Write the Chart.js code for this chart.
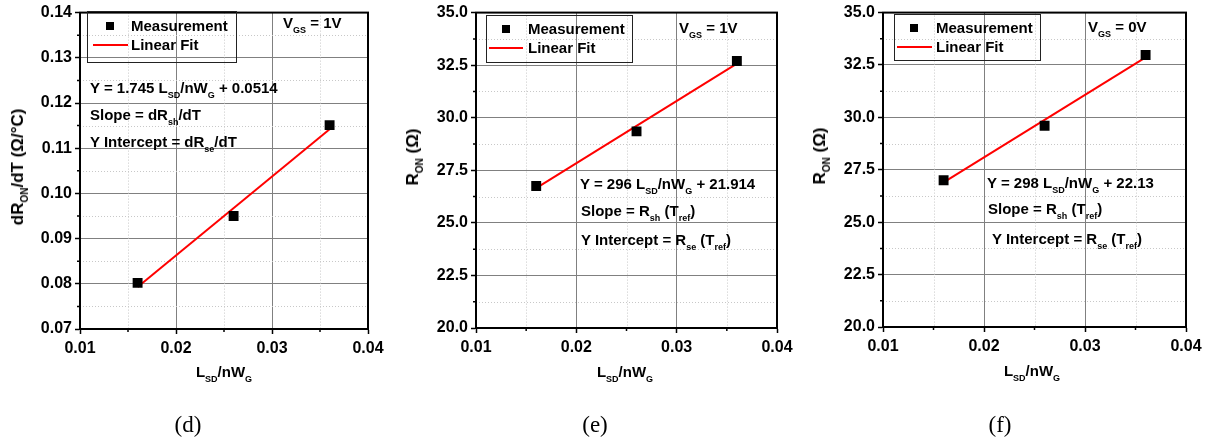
<!DOCTYPE html>
<html lang="en">
<head>
<meta charset="UTF-8">
<title>R_ON vs L_SD/nW_G</title>
<script src="https://cdn.jsdelivr.net/npm/chart.js"></script>
<style>
    body { margin: 0; background: #fff; }
    #wrap { position: relative; width: 1212px; height: 445px; overflow: hidden;
            font-family: "Liberation Sans", Arial, sans-serif; font-weight: bold; color: #000; }
    canvas { position: absolute; top: 0; }
    .t { position: absolute; white-space: nowrap; font-size: 15px; line-height: 18px; transform: translateY(-50%); }
    .t sub { font-size: 9px; vertical-align: -5px; line-height: 0; }
    .ytitle { position: absolute; white-space: nowrap; font-size: 17px; line-height: 20px;
              transform: translate(-50%, -50%) rotate(-90deg); }
    .ytitle sub { font-size: 10px; vertical-align: -5px; line-height: 0; }
    .xtitle { position: absolute; white-space: nowrap; font-size: 15px; line-height: 18px; transform: translate(-50%, -50%); }
    .xtitle sub { font-size: 9px; vertical-align: -5px; line-height: 0; }
    .legend { position: absolute; border: 1.5px solid #222; box-sizing: border-box; }
    .sq { position: absolute; width: 8px; height: 8px; background: #000; transform: translate(-50%, -50%); }
    .ln { position: absolute; height: 2px; background: #f00; transform: translateY(-50%); }
    .cap { position: absolute; font-family: "Liberation Serif", "Times New Roman", serif; font-weight: normal;
           font-size: 23px; color: #000; transform: translate(-50%, -50%); }
</style>
</head>
<body>
<div id="wrap">
    <canvas id="chartD"></canvas>
    <canvas id="chartE"></canvas>
    <canvas id="chartF"></canvas>

    <!-- (d) -->
    <div class="legend" style="left:87px;top:11px;width:150px;height:52px;"></div>
    <div class="sq" style="left:110px;top:26px;"></div>
    <div class="t" style="left:131px;top:26px;">Measurement</div>
    <div class="ln" style="left:93px;top:45px;width:35px;"></div>
    <div class="t" style="left:131px;top:45px;">Linear Fit</div>
    <div class="t" style="left:283px;top:23px;">V<sub>GS</sub> = 1V</div>
    <div class="t" style="left:90px;top:88px;">Y = 1.745 L<sub>SD</sub>/nW<sub>G</sub> + 0.0514</div>
    <div class="t" style="left:90px;top:115px;">Slope = dR<sub>sh</sub>/dT</div>
    <div class="t" style="left:90px;top:142px;">Y Intercept = dR<sub>se</sub>/dT</div>
    <div class="ytitle" style="left:18px;top:167px;">dR<sub>ON</sub>/dT (Ω/°C)</div>
    <div class="xtitle" style="left:224px;top:372px;">L<sub>SD</sub>/nW<sub>G</sub></div>
    <div class="cap" style="left:188px;top:425px;">(d)</div>

    <!-- (e) -->
    <div class="legend" style="left:486px;top:15px;width:147px;height:48px;"></div>
    <div class="sq" style="left:506px;top:29px;"></div>
    <div class="t" style="left:528px;top:29px;">Measurement</div>
    <div class="ln" style="left:489px;top:48px;width:34px;"></div>
    <div class="t" style="left:528px;top:48px;">Linear Fit</div>
    <div class="t" style="left:679px;top:28px;">V<sub>GS</sub> = 1V</div>
    <div class="t" style="left:580px;top:184px;">Y = 296 L<sub>SD</sub>/nW<sub>G</sub> + 21.914</div>
    <div class="t" style="left:581px;top:211px;">Slope = R<sub>sh</sub> (T<sub>ref</sub>)</div>
    <div class="t" style="left:581px;top:240px;">Y Intercept = R<sub>se</sub> (T<sub>ref</sub>)</div>
    <div class="ytitle" style="left:413px;top:157px;">R<sub>ON</sub> (Ω)</div>
    <div class="xtitle" style="left:625px;top:372px;">L<sub>SD</sub>/nW<sub>G</sub></div>
    <div class="cap" style="left:595px;top:425px;">(e)</div>

    <!-- (f) -->
    <div class="legend" style="left:894px;top:14px;width:147px;height:47px;"></div>
    <div class="sq" style="left:914px;top:28px;"></div>
    <div class="t" style="left:936px;top:28px;">Measurement</div>
    <div class="ln" style="left:897px;top:47px;width:35px;"></div>
    <div class="t" style="left:936px;top:47px;">Linear Fit</div>
    <div class="t" style="left:1088px;top:27px;">V<sub>GS</sub> = 0V</div>
    <div class="t" style="left:987px;top:183px;">Y = 298 L<sub>SD</sub>/nW<sub>G</sub> + 22.13</div>
    <div class="t" style="left:988px;top:209px;">Slope = R<sub>sh</sub> (T<sub>ref</sub>)</div>
    <div class="t" style="left:992px;top:239px;">Y Intercept = R<sub>se</sub> (T<sub>ref</sub>)</div>
    <div class="ytitle" style="left:820px;top:156px;">R<sub>ON</sub> (Ω)</div>
    <div class="xtitle" style="left:1032px;top:371px;">L<sub>SD</sub>/nW<sub>G</sub></div>
    <div class="cap" style="left:1000px;top:425px;">(f)</div>
</div>

<script>
    // data
    const xTicks = [0.01, 0.02, 0.03, 0.04];
    const xMinor = [0.015, 0.025, 0.035];
    const lsdNwg = [0.016, 0.026, 0.036];

    const dRonDt = [0.0802, 0.0950, 0.1151];   // (d)
    const ronVgs1 = [26.75, 29.35, 32.70];     // (e)
    const ronVgs0 = [27.00, 29.60, 32.98];     // (f)

    const fitX = [0.016, 0.036];
    const fitDRon = [0.0793, 0.1142];
    const fitRon1 = [26.65, 32.57];
    const fitRon0 = [26.90, 32.86];

    const yTicksD = [0.07, 0.08, 0.09, 0.10, 0.11, 0.12, 0.13, 0.14];
    const yMinorD = [0.075, 0.085, 0.095, 0.105, 0.115, 0.125, 0.135];
    const yTicksR = [20.0, 22.5, 25.0, 27.5, 30.0, 32.5, 35.0];
    const yMinorR = [21.25, 23.75, 26.25, 28.75, 31.25, 33.75];

    const tickFont = { family: '"Liberation Sans", Arial, sans-serif', size: 16, weight: 'bold' };

    // minor dotted grid, short minor ticks and the closed frame
    const framePlugin = {
        id: 'frame',
        beforeDatasetsDraw(chart, args, opts) {
            const { ctx, chartArea: a, scales: { x, y } } = chart;
            ctx.save();
            ctx.strokeStyle = '#c8c8c8';
            ctx.lineWidth = 1;
            ctx.setLineDash([1, 2]);
            ctx.beginPath();
            opts.xMinor.forEach(v => {
                const px = Math.round(x.getPixelForValue(v)) + 0.5;
                ctx.moveTo(px, a.top); ctx.lineTo(px, a.bottom);
            });
            opts.yMinor.forEach(v => {
                const py = Math.round(y.getPixelForValue(v)) + 0.5;
                ctx.moveTo(a.left, py); ctx.lineTo(a.right, py);
            });
            ctx.stroke();
            ctx.restore();
        },
        afterDraw(chart, args, opts) {
            const { ctx, chartArea: a, scales: { x, y } } = chart;
            ctx.save();
            ctx.strokeStyle = '#000';
            ctx.lineWidth = 1.5;
            ctx.beginPath();
            opts.xMinor.forEach(v => {
                const px = x.getPixelForValue(v);
                ctx.moveTo(px, a.bottom); ctx.lineTo(px, a.bottom + 3);
            });
            opts.yMinor.forEach(v => {
                const py = y.getPixelForValue(v);
                ctx.moveTo(a.left, py); ctx.lineTo(a.left - 3, py);
            });
            ctx.stroke();
            ctx.lineWidth = 2;
            ctx.strokeRect(a.left, a.top, a.right - a.left, a.bottom - a.top);
            ctx.restore();
        }
    };

    function makeChart(id, box, ys, fitY, yTicks, yMinor, digits) {
        const padL = 70, padR = 25, axH = 40;
        const cv = document.getElementById(id);
        cv.width = box.r - box.l + padL + padR;
        cv.height = box.b + axH;
        cv.style.width = cv.width + 'px';
        cv.style.height = cv.height + 'px';
        cv.style.left = (box.l - padL) + 'px';

        return new Chart(cv, {
            type: 'scatter',
            data: {
                datasets: [{
                    label: 'Measurement',
                    data: lsdNwg.map((x, i) => ({ x: x, y: ys[i] })),
                    pointStyle: 'rect',
                    pointRadius: 7,
                    backgroundColor: '#000',
                    borderColor: '#000',
                    borderWidth: 0,
                    order: 0
                }, {
                    label: 'Linear Fit',
                    type: 'line',
                    data: fitX.map((x, i) => ({ x: x, y: fitY[i] })),
                    borderColor: '#ff0000',
                    borderWidth: 2,
                    pointRadius: 0,
                    showLine: true,
                    fill: false,
                    order: 1
                }]
            },
            options: {
                responsive: false,
                animation: false,
                events: [],
                layout: { padding: { left: 0, right: padR, top: box.t, bottom: 0 } },
                plugins: {
                    legend: { display: false },
                    tooltip: { enabled: false },
                    frame: { xMinor: xMinor, yMinor: yMinor }
                },
                scales: {
                    x: {
                        type: 'linear',
                        min: xTicks[0],
                        max: xTicks[xTicks.length - 1],
                        afterBuildTicks: s => { s.ticks = xTicks.map(v => ({ value: v })); },
                        afterFit: s => { s.height = axH; },
                        grid: { color: '#808080', lineWidth: 1, tickLength: 5, tickColor: '#000', tickWidth: 1.5 },
                        border: { color: '#000', width: 2 },
                        ticks: { padding: 5, color: '#000', font: tickFont, maxRotation: 0, autoSkip: false,
                                 callback: v => v.toFixed(2) }
                    },
                    y: {
                        type: 'linear',
                        min: yTicks[0],
                        max: yTicks[yTicks.length - 1],
                        afterBuildTicks: s => { s.ticks = yTicks.map(v => ({ value: v })); },
                        afterFit: s => { s.width = padL; },
                        grid: { color: '#808080', lineWidth: 1, tickLength: 5, tickColor: '#000', tickWidth: 1.5 },
                        border: { color: '#000', width: 2 },
                        ticks: { padding: 3, color: '#000', font: tickFont, autoSkip: false,
                                 callback: v => v.toFixed(digits) }
                    }
                }
            },
            plugins: [framePlugin]
        });
    }

    makeChart('chartD', { l: 80, r: 368, t: 10, b: 329 }, dRonDt, fitDRon, yTicksD, yMinorD, 2);
    makeChart('chartE', { l: 476, r: 777, t: 12, b: 328 }, ronVgs1, fitRon1, yTicksR, yMinorR, 1);
    makeChart('chartF', { l: 883, r: 1186, t: 11, b: 327 }, ronVgs0, fitRon0, yTicksR, yMinorR, 1);
</script>
</body>
</html>
